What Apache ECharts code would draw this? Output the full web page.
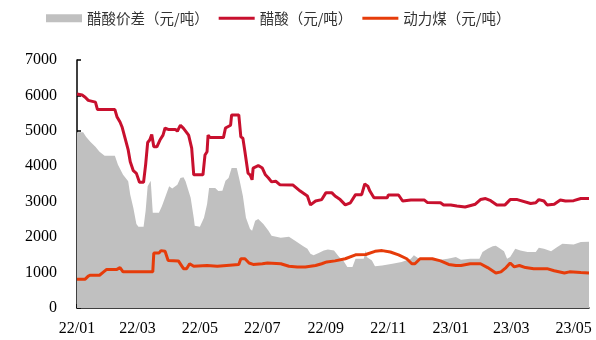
<!DOCTYPE html>
<html>
<head>
<meta charset="utf-8">
<script src="https://cdn.jsdelivr.net/npm/echarts@6/dist/echarts.min.js"></script>
<style>
    html, body { margin: 0; padding: 0; background: #fff; }
    #main { width: 596px; height: 340px; }
</style>
</head>
<body>
<div id="main"></div>
<script>
// 醋酸价差（元/吨）
var spreadDates = ['2022-01-01','2022-01-07','2022-01-10','2022-01-14','2022-01-19','2022-01-23','2022-01-28','2022-02-07','2022-02-10','2022-02-15','2022-02-20','2022-02-22','2022-02-25','2022-02-28','2022-03-02','2022-03-07','2022-03-09','2022-03-11','2022-03-12','2022-03-14','2022-03-16','2022-03-22','2022-03-25','2022-03-29','2022-04-01','2022-04-04','2022-04-09','2022-04-12','2022-04-15','2022-04-17','2022-04-22','2022-04-25','2022-04-26','2022-05-01','2022-05-05','2022-05-08','2022-05-10','2022-05-16','2022-05-19','2022-05-23','2022-05-26','2022-05-29','2022-06-01','2022-06-06','2022-06-09','2022-06-12','2022-06-15','2022-06-19','2022-06-21','2022-06-24','2022-06-27','2022-07-02','2022-07-07','2022-07-10','2022-07-19','2022-07-27','2022-08-02','2022-08-10','2022-08-14','2022-08-17','2022-08-20','2022-08-25','2022-08-30','2022-09-03','2022-09-09','2022-09-14','2022-09-18','2022-09-22','2022-09-27','2022-09-30','2022-10-08','2022-10-10','2022-10-11','2022-10-16','2022-10-19','2022-10-26','2022-11-05','2022-11-14','2022-11-23','2022-11-26','2022-12-01','2022-12-07','2022-12-14','2022-12-22','2022-12-29','2023-01-06','2023-01-11','2023-01-20','2023-01-29','2023-02-01','2023-02-06','2023-02-11','2023-02-14','2023-02-17','2023-02-22','2023-02-25','2023-02-28','2023-03-05','2023-03-10','2023-03-17','2023-03-25','2023-03-28','2023-04-02','2023-04-09','2023-04-15','2023-04-20','2023-05-01','2023-05-08','2023-05-16'];
var spreadValues = [4960,4960,4830,4690,4550,4410,4300,4300,4040,3760,3580,3200,2830,2370,2290,2290,2740,3440,3480,3590,2690,2690,2880,3200,3440,3370,3480,3670,3690,3580,3110,2550,2320,2290,2550,2930,3390,3390,3300,3310,3590,3670,3950,3950,3580,3160,2550,2230,2180,2460,2510,2370,2180,2040,1980,2010,1900,1740,1670,1530,1490,1550,1620,1650,1620,1440,1340,1160,1160,1390,1390,1620,1440,1340,1180,1200,1250,1300,1390,1490,1390,1390,1360,1360,1390,1440,1360,1390,1390,1580,1670,1740,1760,1700,1600,1390,1440,1670,1620,1580,1580,1700,1670,1600,1720,1810,1790,1860,1870];

// 醋酸（元/吨）
var acidDates = ['2022-01-01','2022-01-06','2022-01-09','2022-01-12','2022-01-13','2022-01-19','2022-01-21','2022-02-07','2022-02-09','2022-02-12','2022-02-14','2022-02-17','2022-02-20','2022-02-22','2022-02-25','2022-02-28','2022-03-03','2022-03-07','2022-03-09','2022-03-11','2022-03-13','2022-03-15','2022-03-17','2022-03-20','2022-03-23','2022-03-26','2022-03-28','2022-03-31','2022-04-07','2022-04-09','2022-04-12','2022-04-15','2022-04-20','2022-04-23','2022-04-25','2022-05-04','2022-05-06','2022-05-08','2022-05-09','2022-05-11','2022-05-24','2022-05-26','2022-05-31','2022-06-01','2022-06-08','2022-06-10','2022-06-12','2022-06-14','2022-06-17','2022-06-19','2022-06-21','2022-06-22','2022-06-27','2022-07-01','2022-07-04','2022-07-07','2022-07-10','2022-07-14','2022-07-18','2022-07-31','2022-08-07','2022-08-14','2022-08-17','2022-08-22','2022-08-28','2022-09-01','2022-09-07','2022-09-10','2022-09-15','2022-09-20','2022-09-25','2022-09-30','2022-10-06','2022-10-09','2022-10-12','2022-10-14','2022-10-18','2022-10-31','2022-11-01','2022-11-11','2022-11-15','2022-11-23','2022-12-06','2022-12-09','2022-12-22','2022-12-25','2023-01-01','2023-01-07','2023-01-15','2023-01-25','2023-01-30','2023-02-04','2023-02-09','2023-02-15','2023-02-23','2023-02-28','2023-03-07','2023-03-20','2023-03-25','2023-03-28','2023-04-02','2023-04-05','2023-04-12','2023-04-18','2023-04-23','2023-05-01','2023-05-08','2023-05-16'];
var acidValues = [6040,6010,5950,5860,5810,5810,5600,5600,5400,5250,5110,4790,4460,4130,3875,3800,3550,3550,4040,4670,4740,4900,4550,4550,4740,4880,5080,5040,5040,4990,5160,5070,4880,4510,3760,3760,4320,4410,4880,4810,4810,5080,5160,5450,5450,4830,4790,4410,3810,3760,3620,3950,4020,3950,3760,3670,3560,3580,3480,3470,3300,3160,2910,3020,3060,3250,3250,3160,3060,2910,2970,3200,3200,3500,3440,3300,3110,3110,3190,3190,3020,3050,3050,2980,2970,2910,2910,2880,2850,2930,3060,3090,3030,2910,2910,3060,3060,2950,2970,3060,3020,2910,2930,3050,3020,3030,3090,3090];

// 动力煤（元/吨）
var coalDates = ['2022-01-01','2022-01-09','2022-01-12','2022-01-14','2022-01-23','2022-01-27','2022-01-30','2022-02-09','2022-02-12','2022-02-15','2022-03-16','2022-03-17','2022-03-22','2022-03-24','2022-03-28','2022-03-31','2022-04-10','2022-04-15','2022-04-18','2022-04-21','2022-04-25','2022-04-26','2022-05-08','2022-05-09','2022-05-18','2022-05-19','2022-06-08','2022-06-10','2022-06-14','2022-06-18','2022-06-22','2022-07-01','2022-07-06','2022-07-19','2022-07-27','2022-08-04','2022-08-12','2022-08-22','2022-08-28','2022-09-02','2022-09-10','2022-09-20','2022-09-30','2022-10-10','2022-10-19','2022-10-26','2022-11-03','2022-11-11','2022-11-19','2022-11-24','2022-11-27','2022-12-02','2022-12-14','2022-12-22','2022-12-30','2023-01-06','2023-01-11','2023-01-20','2023-01-30','2023-02-06','2023-02-14','2023-02-19','2023-02-24','2023-02-28','2023-03-04','2023-03-09','2023-03-15','2023-03-23','2023-04-05','2023-04-12','2023-04-22','2023-04-27','2023-05-08','2023-05-16'];
var coalValues = [815,815,900,925,925,1020,1090,1090,1140,1020,1020,1550,1550,1620,1600,1340,1330,1110,1110,1250,1180,1210,1200,1180,1180,1230,1230,1390,1390,1270,1230,1250,1270,1250,1180,1160,1160,1200,1250,1300,1330,1390,1500,1510,1600,1620,1580,1500,1390,1250,1250,1390,1390,1330,1230,1200,1200,1250,1250,1140,990,1020,1140,1270,1160,1200,1140,1110,1110,1050,990,1020,1000,990];

var yTicks = [0, 1000, 2000, 3000, 4000, 5000, 6000, 7000];

function pairs(dates, values) {
    var out = [];
    dates.forEach(function (d, i) {
        out.push([d, values[i]]);
    });
    return out;
}

// 图例中的线段
var lineIcon = 'path://M0,0 L36,0 L36,3 L0,3 Z';

var myChart = echarts.init(document.getElementById('main'));
var option = {
    animation: false,
    textStyle: { fontFamily: 'Liberation Serif' },
    legend: {
        top: 6,
        left: 41,
        itemGap: 10,
        itemWidth: 36,
        itemHeight: 8,
        textStyle: { fontFamily: 'Noto Sans CJK SC', fontSize: 14.5, color: '#333' },
        data: [
            { name: '醋酸价差（元/吨）', icon: 'rect' },
            { name: '醋酸（元/吨）', icon: lineIcon },
            { name: '动力煤（元/吨）', icon: lineIcon }
        ]
    },
    grid: { left: 77, right: 7, top: 60, bottom: 32 },
    xAxis: {
        type: 'time',
        min: '2022-01-01',
        max: '2023-05-16',
        minInterval: 75 * 86400000,
        maxInterval: 75 * 86400000,
        axisLine: { lineStyle: { color: '#000', width: 1.5 } },
        axisTick: { inside: true, length: 4, lineStyle: { color: '#000', width: 1.5 } },
        splitLine: { show: false },
        axisLabel: {
            color: '#000',
            fontSize: 16,
            fontFamily: 'Liberation Serif',
            margin: 13,
            formatter: function (val) {
                var d = new Date(val);
                var yy = String(d.getFullYear()).slice(2);
                var mm = d.getMonth() + 1;
                return yy + '/' + (mm < 10 ? '0' + mm : mm);
            }
        }
    },
    yAxis: {
        type: 'value',
        min: yTicks[0],
        max: yTicks[yTicks.length - 1],
        interval: 1000,
        axisLine: { show: true, lineStyle: { color: '#000', width: 1.5 } },
        axisTick: { show: true, inside: true, length: 4, lineStyle: { color: '#000', width: 1.5 } },
        splitLine: { show: false },
        axisLabel: {
            color: '#000',
            fontSize: 16,
            fontFamily: 'Liberation Serif',
            margin: 20,
            formatter: function (val) {
                return String(val);
            }
        }
    },
    series: [
        {
            name: '醋酸价差（元/吨）',
            type: 'line',
            symbol: 'none',
            color: '#c0c0c0',
            lineStyle: { width: 0 },
            areaStyle: { color: '#c0c0c0', opacity: 1 },
            data: pairs(spreadDates, spreadValues)
        },
        {
            name: '醋酸（元/吨）',
            type: 'line',
            symbol: 'none',
            color: '#c8102e',
            lineStyle: { width: 3, color: '#c8102e' },
            data: pairs(acidDates, acidValues)
        },
        {
            name: '动力煤（元/吨）',
            type: 'line',
            symbol: 'none',
            color: '#e63c0a',
            lineStyle: { width: 3, color: '#e63c0a' },
            data: pairs(coalDates, coalValues)
        }
    ]
};
myChart.setOption(option);
</script>
</body>
</html>
